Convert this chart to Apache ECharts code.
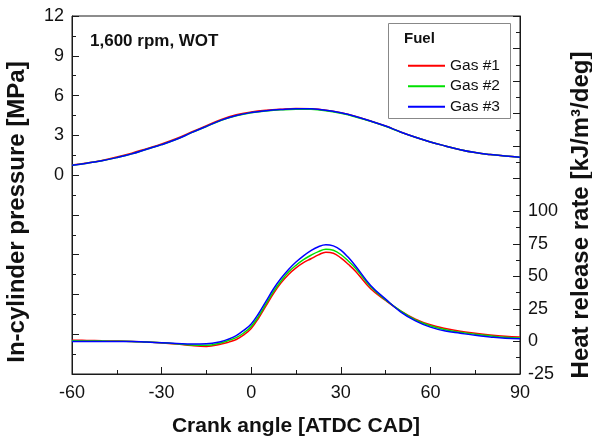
<!DOCTYPE html>
<html>
<head>
<meta charset="utf-8">
<script src="https://cdn.jsdelivr.net/npm/echarts@6/dist/echarts.min.js"></script>
<style>
  html, body { margin: 0; padding: 0; background: #fff; }
  #main { width: 592px; height: 442px; }
</style>
</head>
<body>
<div id="main"></div>
<script>
// crank angle (deg ATDC) for the pressure traces
var crankAngleP = [-60,-55,-50,-45,-40,-35,-30,-25,-20,-15,-10,-5,0,5,10,15,20,25,30,35,40,45,50,55,60,65,70,75,80,85,90];

// in-cylinder pressure [MPa]
var pGas1 = [0.77,0.92,1.11,1.36,1.65,2.0,2.35,2.76,3.25,3.73,4.2,4.55,4.76,4.89,4.97,5.02,5.0,4.9,4.7,4.42,4.08,3.7,3.25,2.85,2.5,2.2,1.92,1.7,1.55,1.44,1.35];
var pGas2 = [0.75,0.9,1.08,1.32,1.6,1.95,2.3,2.7,3.2,3.67,4.14,4.48,4.7,4.83,4.92,4.97,4.96,4.86,4.66,4.39,4.06,3.68,3.24,2.85,2.5,2.2,1.92,1.7,1.55,1.44,1.35];
var pGas3 = [0.75,0.9,1.08,1.32,1.6,1.95,2.3,2.7,3.2,3.68,4.15,4.5,4.72,4.86,4.95,5.01,5.0,4.9,4.7,4.42,4.08,3.7,3.25,2.85,2.5,2.2,1.92,1.7,1.55,1.44,1.35];

// crank angle for heat release (finer around combustion)
var crankAngleH = [-60,-55,-50,-45,-40,-35,-30,-25,-20,-15,-10,-7.5,-5,-2.5,0,2.5,5,7.5,10,12.5,15,17.5,20,22.5,25,27.5,30,32.5,35,40,45,50,55,60,65,70,75,80,85,90];

// heat release rate [kJ/m3/deg]
var hGas1 = [1,0.8,0.5,0.3,0,-0.5,-1.2,-2,-3.2,-3.8,-2,-0.5,1.5,5,10,18,27.5,37,45,51.5,56.5,60.5,63.5,66.5,68.6,67.8,64.2,59.3,53.8,40.5,31.5,23.5,17.2,12.8,10,7.8,6.3,5,4,3.4];
var hGas2 = [0.5,0.4,0.3,0.1,0,-0.5,-1,-1.8,-2.7,-3,-1,0.8,3,6.5,11.5,19.5,29,38.5,46.5,53.3,58.5,62.8,66.2,69,70.8,70,66.8,61.8,56,42,32,23.5,16.5,12,9,7,5.6,4.3,3.2,2.6];
var hGas3 = [0,0,0,0,0,-0.5,-1,-1.5,-2,-1.8,0,1.9,4.5,8.5,13.5,21.5,31,40.5,48.5,55.3,61,65.8,69.8,72.8,74.3,73.4,70.2,64.6,57.8,43,32.5,22.8,15.8,11,8,6.3,4.7,3.5,2.5,2];

var fuelNames = ['Gas #1', 'Gas #2', 'Gas #3'];
var fuelColors = ['#ff0000', '#00e000', '#0000ff'];

function pairs(xs, ys) {
    return xs.map(function (x, i) { return [x, ys[i]]; });
}

var font = '"Liberation Sans", Arial, sans-serif';
var axisColor = '#1a1a1a';

var myChart = echarts.init(document.getElementById('main'));

var pressure = [pGas1, pGas2, pGas3];
var hrr = [hGas1, hGas2, hGas3];
var series = [];
for (var i = 0; i < 3; i++) {
    series.push({
        name: fuelNames[i], type: 'line', yAxisIndex: 0, smooth: 0.4, showSymbol: false,
        data: pairs(crankAngleP, pressure[i]),
        itemStyle: { color: fuelColors[i] },
        lineStyle: { color: fuelColors[i], width: 1.5 }
    });
}
for (var j = 0; j < 3; j++) {
    series.push({
        name: fuelNames[j], type: 'line', yAxisIndex: 1, smooth: 0.4, showSymbol: false,
        data: pairs(crankAngleH, hrr[j]),
        itemStyle: { color: fuelColors[j] },
        lineStyle: { color: fuelColors[j], width: 1.5 }
    });
}

var option = {
    animation: false,
    textStyle: { fontFamily: font },
    grid: {
        left: 72, right: 72, top: 16, bottom: 68,
        show: true, borderColor: axisColor, borderWidth: 1,
        outerBoundsMode: 'none'
    },
    legend: {
        orient: 'vertical', left: 403, top: 52.7, z: 10,
        icon: 'rect', itemWidth: 37, itemHeight: 2, itemGap: 4.5,
        selectedMode: false,
        data: fuelNames,
        textStyle: { fontFamily: font, fontSize: 15.5, lineHeight: 16, color: '#111' }
    },
    graphic: [
        {
            type: 'rect', left: 388, top: 23, z: 5,
            shape: { width: 122, height: 95 },
            style: { fill: 'rgba(255,255,255,0)', stroke: '#888', lineWidth: 1 }
        },
        {
            type: 'text', left: 404, top: 31, z: 6,
            style: { text: 'Fuel', font: 'bold 15px ' + font, fill: '#111' }
        },
        {
            type: 'text', left: 90, top: 33, z: 6,
            style: { text: '1,600 rpm, WOT', font: 'bold 17px ' + font, fill: '#111' }
        }
    ],
    xAxis: {
        type: 'value', min: -60, max: 90, interval: 30,
        name: 'Crank angle [ATDC CAD]', nameLocation: 'middle', nameGap: 42,
        nameTextStyle: { fontSize: 21, fontWeight: 'bold', color: '#111' },
        axisLine: { onZero: false, lineStyle: { color: axisColor } },
        axisTick: { inside: true, length: 7, lineStyle: { color: axisColor } },
        minorTick: { show: true, splitNumber: 2, length: 4, lineStyle: { color: axisColor } },
        axisLabel: { fontSize: 18, color: '#111', margin: 10 },
        splitLine: { show: false }
    },
    yAxis: [
        {
            type: 'value', min: -15, max: 12, interval: 3, position: 'left',
            name: 'In-cylinder pressure [MPa]', nameLocation: 'middle', nameGap: 43, nameRotate: 90,
            nameTextStyle: { fontSize: 24, fontWeight: 'bold', color: '#111', padding: [0, 34, 0, 0] },
            axisLine: { show: true, onZero: false, lineStyle: { color: axisColor } },
            axisTick: { inside: true, length: 7, lineStyle: { color: axisColor } },
            minorTick: { show: true, splitNumber: 2, length: 4, lineStyle: { color: axisColor } },
            axisLabel: {
                fontSize: 18, color: '#111', margin: 8,
                formatter: function (v) { return v >= 0 ? String(v) : ''; }
            },
            splitLine: { show: false }
        },
        {
            type: 'value', min: -25, max: 250, interval: 25, position: 'right',
            name: 'Heat release rate [kJ/m\u00b3/deg]', nameLocation: 'middle', nameGap: 49, nameRotate: 90,
            nameTextStyle: { fontSize: 24, fontWeight: 'bold', color: '#111', padding: [0, 40, 0, 0] },
            axisLine: { show: true, onZero: false, lineStyle: { color: axisColor } },
            axisTick: { inside: true, length: 7, lineStyle: { color: axisColor } },
            minorTick: { show: true, splitNumber: 2, length: 4, lineStyle: { color: axisColor } },
            axisLabel: {
                fontSize: 18, color: '#111', margin: 8,
                formatter: function (v) { return v <= 100 ? String(v) : ''; }
            },
            splitLine: { show: false }
        }
    ],
    series: series
};
myChart.setOption(option);
</script>
</body>
</html>
